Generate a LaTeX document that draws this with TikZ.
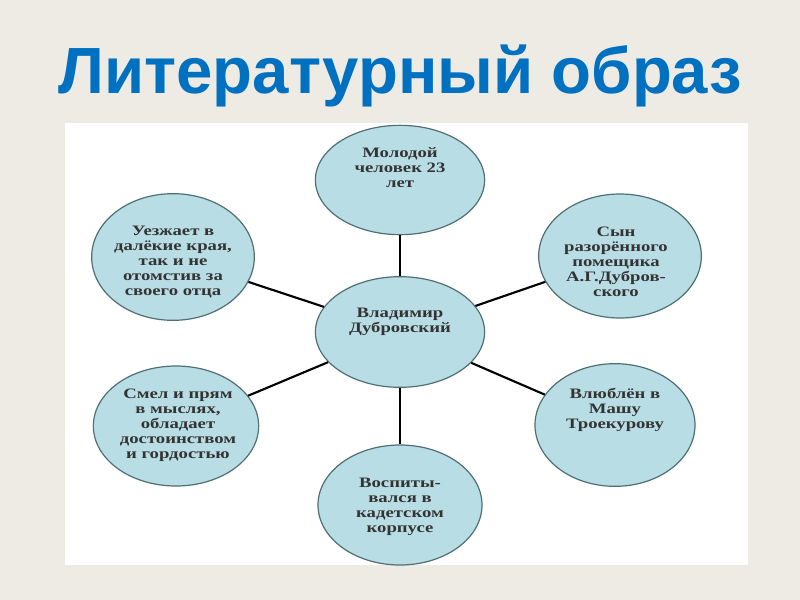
\documentclass[tikz,border=0pt]{standalone}
\usepackage{fontspec}
\setmainfont{Liberation Serif}[FakeStretch=1.3]
\newfontfamily\titlefont{Liberation Sans}
\usetikzlibrary{shapes.geometric}
\definecolor{pagebg}{HTML}{EDEBE3}
\definecolor{titleblue}{HTML}{0070C0}
\definecolor{bubblefill}{HTML}{B9DDE5}
\definecolor{bubbleline}{HTML}{4F6F73}
\definecolor{bubbletext}{HTML}{333333}
\tikzset{
  bubble/.style={ellipse,draw=bubbleline,fill=bubblefill,line width=0.9pt,inner sep=0pt},
  words/.style={align=center,font=\bfseries\fontsize{10.8}{11.2}\selectfont,text=bubbletext,inner sep=0pt},
  spoke/.style={line width=1.6pt,black}
}
\begin{document}
\begin{tikzpicture}[x=0.75pt,y=-0.75pt]

    % page
    \fill[pagebg] (0,0) rectangle (800,600);
    \useasboundingbox (0,0) rectangle (800,600);
    \fill[white] (65,123) rectangle (748,565);

    \node[text=titleblue,font=\titlefont\bfseries\fontsize{49}{55}\selectfont] (title) at (400,76) {Литературный образ};

    % bubbles
    \node[bubble,minimum width=127pt,minimum height=83pt] (c) at (400,332) {};
    \node[bubble,minimum width=127pt,minimum height=82pt] (n) at (400,180) {};
    \node[bubble,minimum width=122pt,minimum height=93pt] (ne) at (620,256) {};
    \node[bubble,minimum width=122pt,minimum height=95pt] (nw) at (173,257) {};
    \node[bubble,minimum width=124pt,minimum height=90pt] (sw) at (176,426) {};
    \node[bubble,minimum width=120pt,minimum height=92pt] (se) at (615,425) {};
    \node[bubble,minimum width=123pt,minimum height=90pt] (s) at (400,505) {};

    % texts
    \node[words] (ct) at (400,322) {Владимир\\Дубровский};
    \node[words] (nt) at (400,168) {Молодой\\человек 23\\лет};
    \node[words] (net) at (616,262) {Сын\\разорённого\\помещика\\А.Г.Дубров-\\ского};
    \node[words] (nwt) at (173,262) {Уезжает в\\далёкие края,\\так и не\\отомстив за\\своего отца};
    \node[words] (swt) at (178,425) {Смел и прям\\в мыслях,\\обладает\\достоинством\\и гордостью};
    \node[words] (set) at (615,410) {Влюблён в\\Машу\\Троекурову};
    \node[words] (st) at (400,507) {Воспиты-\\вался в\\кадетском\\корпусе};

    % spokes
    \draw[spoke] (c) -- (n);
    \draw[spoke] (c) -- (s);
    \draw[spoke] (c) -- (ne);
    \draw[spoke] (c) -- (nw);
    \draw[spoke] (c) -- (sw);
    \draw[spoke] (c) -- (se);

\end{tikzpicture}
\end{document}
